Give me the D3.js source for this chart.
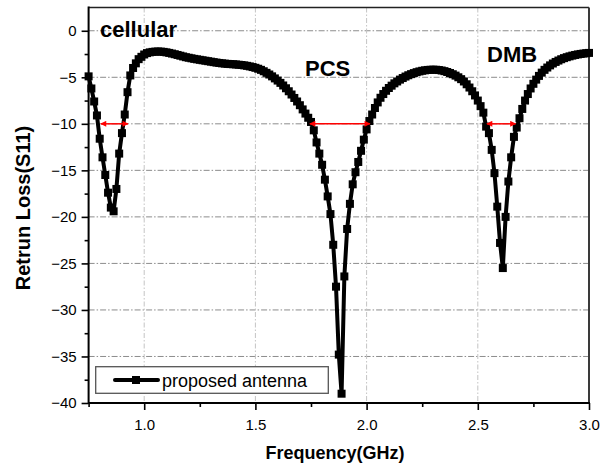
<!DOCTYPE html>
<html>
<head>
<meta charset="utf-8">
<script src="https://cdn.jsdelivr.net/npm/d3@7"></script>
<style>
  body { margin: 0; background: #fff; }
  text { font-family: Arial, "Liberation Sans", sans-serif; }
</style>
</head>
<body>
<div class="chart"></div>
<script>
// frequency (GHz), one row = 0.1 GHz
var freq = [
  0.75, 0.7625, 0.775, 0.7875, 0.8, 0.8125, 0.825, 0.8375,
  0.85, 0.8625, 0.875, 0.8875, 0.9, 0.9125, 0.925, 0.9375,
  0.95, 0.9625, 0.975, 0.9875, 1.0, 1.0125, 1.025, 1.0375,
  1.05, 1.0625, 1.075, 1.0875, 1.1, 1.1125, 1.125, 1.1375,
  1.15, 1.1625, 1.175, 1.1875, 1.2, 1.2125, 1.225, 1.2375,
  1.25, 1.2625, 1.275, 1.2875, 1.3, 1.3125, 1.325, 1.3375,
  1.35, 1.3625, 1.375, 1.3875, 1.4, 1.4125, 1.425, 1.4375,
  1.45, 1.4625, 1.475, 1.4875, 1.5, 1.5125, 1.525, 1.5375,
  1.55, 1.5625, 1.575, 1.5875, 1.6, 1.6125, 1.625, 1.6375,
  1.65, 1.6625, 1.675, 1.6875, 1.7, 1.7125, 1.725, 1.7375,
  1.75, 1.7625, 1.775, 1.7875, 1.8, 1.8125, 1.825, 1.8375,
  1.85, 1.8625, 1.875, 1.8875, 1.9, 1.9125, 1.925, 1.9375,
  1.95, 1.9625, 1.975, 1.9875, 2.0, 2.0125, 2.025, 2.0375,
  2.05, 2.0625, 2.075, 2.0875, 2.1, 2.1125, 2.125, 2.1375,
  2.15, 2.1625, 2.175, 2.1875, 2.2, 2.2125, 2.225, 2.2375,
  2.25, 2.2625, 2.275, 2.2875, 2.3, 2.3125, 2.325, 2.3375,
  2.35, 2.3625, 2.375, 2.3875, 2.4, 2.4125, 2.425, 2.4375,
  2.45, 2.4625, 2.475, 2.4875, 2.5, 2.5125, 2.525, 2.5375,
  2.55, 2.5625, 2.575, 2.5875, 2.6, 2.6125, 2.625, 2.6375,
  2.65, 2.6625, 2.675, 2.6875, 2.7, 2.7125, 2.725, 2.7375,
  2.75, 2.7625, 2.775, 2.7875, 2.8, 2.8125, 2.825, 2.8375,
  2.85, 2.8625, 2.875, 2.8875, 2.9, 2.9125, 2.925, 2.9375,
  2.95, 2.9625, 2.975, 2.9875, 3.0
];

// return loss S11 (dB), same rows as freq
var s11 = [
  -4.9, -6.2, -7.6, -9.1, -11.6, -13.6, -15.5, -17.4,
  -19.0, -19.4, -17.0, -13.2, -11.0, -9.0, -6.6, -4.8,
  -4.0, -3.5, -3.05, -2.8, -2.55, -2.4, -2.32, -2.27,
  -2.24, -2.23, -2.24, -2.27, -2.32, -2.38, -2.45, -2.52,
  -2.6, -2.68, -2.76, -2.84, -2.9, -2.96, -3.02, -3.07,
  -3.12, -3.17, -3.22, -3.27, -3.32, -3.37, -3.42, -3.46,
  -3.5, -3.53, -3.56, -3.58, -3.6, -3.62, -3.65, -3.68,
  -3.72, -3.77, -3.83, -3.9, -3.98, -4.08, -4.2, -4.35,
  -4.52, -4.7, -4.9, -5.12, -5.35, -5.6, -5.88, -6.18,
  -6.5, -6.85, -7.22, -7.6, -8.0, -8.45, -8.9, -9.35,
  -9.8, -10.7, -12.0, -13.2, -14.4, -16.0, -17.8, -19.7,
  -23.0, -27.5, -34.8, -39.0, -26.4, -21.3, -18.6, -16.5,
  -15.2, -14.1, -12.9, -11.7, -10.6, -9.7, -9.0, -8.3,
  -7.7, -7.2, -6.8, -6.45, -6.15, -5.9, -5.65, -5.45,
  -5.25, -5.08, -4.92, -4.78, -4.66, -4.55, -4.45, -4.37,
  -4.3, -4.25, -4.21, -4.19, -4.18, -4.19, -4.22, -4.27,
  -4.34, -4.43, -4.54, -4.67, -4.82, -5.0, -5.2, -5.45,
  -5.75, -6.1, -6.5, -6.95, -7.5, -8.1, -8.8, -10.3,
  -11.0, -12.8, -15.3, -18.9, -22.8, -25.5, -20.0, -16.2,
  -13.6, -11.4, -10.4, -9.4, -8.4, -7.5, -6.8, -6.2,
  -5.7, -5.25, -4.85, -4.5, -4.2, -3.95, -3.72, -3.52,
  -3.35, -3.2, -3.06, -2.94, -2.84, -2.75, -2.67, -2.6,
  -2.54, -2.49, -2.45, -2.41, -2.38
];

var xTicks = [1.0, 1.5, 2.0, 2.5, 3.0];
var xMinorTicks = [0.75, 1.25, 1.75, 2.25, 2.75];
var yTicks = [-40, -35, -30, -25, -20, -15, -10, -5, 0];
var yMinorTicks = [-37.5, -32.5, -27.5, -22.5, -17.5, -12.5, -7.5, -2.5];

// -10 dB bandwidth arrows
var bandNames = ["cellular", "PCS", "DMB"];
var bandStart = [0.805, 1.745, 2.541];
var bandEnd = [0.927, 2.015, 2.67];
var bandLevel = -10;

var seriesName = "proposed antenna";

var svgWidth = 608;
var svgHeight = 468;

var margin = {
  top: 7.5,
  right: 19,
  bottom: 65,
  left: 88.6
};

var width = svgWidth - margin.left - margin.right;
var height = svgHeight - margin.top - margin.bottom;

var svg = d3
  .select(".chart")
  .append("svg")
  .attr("width", svgWidth)
  .attr("height", svgHeight);

var chartGroup = svg.append("g")
  .attr("transform", `translate(${margin.left}, ${margin.top})`);

var xScale = d3.scaleLinear().domain([0.75, 3.0]).range([0, width]);
var yScale = d3.scaleLinear().domain([-40, 2.5]).range([height, 0]);

var data = freq.map((f, i) => ({ f: f, v: s11[i] }));

// grid lines
chartGroup.append("g")
  .selectAll("line")
  .data(yTicks.slice(1))
  .enter()
  .append("line")
  .attr("x1", 0)
  .attr("x2", width)
  .attr("y1", d => yScale(d))
  .attr("y2", d => yScale(d))
  .attr("stroke", "#8c8c8c")
  .attr("stroke-width", 1)
  .attr("stroke-dasharray", "6,2,1.5,2");

chartGroup.append("g")
  .selectAll("line")
  .data(xTicks.slice(0, -1))
  .enter()
  .append("line")
  .attr("x1", d => xScale(d))
  .attr("x2", d => xScale(d))
  .attr("y1", 0)
  .attr("y2", height)
  .attr("stroke", "#c4c4c4")
  .attr("stroke-width", 1)
  .attr("stroke-dasharray", "5,2,1.5,2");

// axes
var bottomAxis = d3.axisBottom(xScale)
  .tickValues(xTicks)
  .tickFormat(d3.format(".1f"))
  .tickSize(7)
  .tickPadding(9);
var bottomMinor = d3.axisBottom(xScale)
  .tickValues(xMinorTicks)
  .tickFormat("")
  .tickSize(4);
var leftAxis = d3.axisLeft(yScale)
  .tickValues(yTicks)
  .tickFormat(d3.format("d"))
  .tickSize(7)
  .tickPadding(5);
var leftMinor = d3.axisLeft(yScale)
  .tickValues(yMinorTicks)
  .tickFormat("")
  .tickSize(4);

chartGroup.append("g").attr("transform", `translate(0,${height})`).call(bottomAxis);
chartGroup.append("g").attr("transform", `translate(0,${height})`).call(bottomMinor);
chartGroup.append("g").call(leftAxis);
chartGroup.append("g").call(leftMinor);

chartGroup.selectAll(".domain").remove();
chartGroup.selectAll(".tick line").attr("stroke", "#000").attr("stroke-width", 1.6);
chartGroup.selectAll(".tick text")
  .attr("fill", "#000")
  .style("font-size", "15px");

// frame
chartGroup.append("line")
  .attr("x1", 0).attr("x2", width).attr("y1", 0).attr("y2", 0)
  .attr("stroke", "#222").attr("stroke-width", 1.5);
chartGroup.append("line")
  .attr("x1", width).attr("x2", width).attr("y1", 0).attr("y2", height)
  .attr("stroke", "#3a3a3a").attr("stroke-width", 2);
chartGroup.append("line")
  .attr("x1", 0).attr("x2", width + 1).attr("y1", height).attr("y2", height)
  .attr("stroke", "#000").attr("stroke-width", 2);
chartGroup.append("line")
  .attr("x1", 0).attr("x2", 0).attr("y1", -1).attr("y2", height + 1)
  .attr("stroke", "#000").attr("stroke-width", 2);

// curve
var line = d3.line()
  .x(d => xScale(d.f))
  .y(d => yScale(d.v));

chartGroup.append("path")
  .datum(data)
  .attr("d", line)
  .attr("fill", "none")
  .attr("stroke", "#000")
  .attr("stroke-width", 4)
  .attr("stroke-linejoin", "round");

chartGroup.append("g")
  .selectAll("rect")
  .data(data)
  .enter()
  .append("rect")
  .attr("x", d => xScale(d.f) - 4)
  .attr("y", d => yScale(d.v) - 4)
  .attr("width", 8)
  .attr("height", 8)
  .attr("fill", "#000");

// red bandwidth arrows
var defs = svg.append("defs");
defs.append("marker")
  .attr("id", "arrowhead")
  .attr("viewBox", "0 0 10 10")
  .attr("refX", 9)
  .attr("refY", 5)
  .attr("markerUnits", "userSpaceOnUse")
  .attr("markerWidth", 7)
  .attr("markerHeight", 6)
  .attr("orient", "auto-start-reverse")
  .append("path")
  .attr("d", "M0,0 L10,5 L0,10 z")
  .attr("fill", "#ff0000");

chartGroup.append("g")
  .selectAll("line")
  .data(bandNames)
  .enter()
  .append("line")
  .attr("x1", (d, i) => xScale(bandStart[i]))
  .attr("x2", (d, i) => xScale(bandEnd[i]))
  .attr("y1", yScale(bandLevel))
  .attr("y2", yScale(bandLevel))
  .attr("stroke", "#ff0000")
  .attr("stroke-width", 1.5)
  .attr("marker-start", "url(#arrowhead)")
  .attr("marker-end", "url(#arrowhead)");

// band labels
var labelX = [100, 305, 487];
var labelY = [37, 76, 61.5];
svg.append("g")
  .selectAll("text")
  .data(bandNames)
  .enter()
  .append("text")
  .attr("x", (d, i) => labelX[i])
  .attr("y", (d, i) => labelY[i])
  .style("font-size", "22px")
  .style("font-weight", "bold")
  .text(d => d);

// legend
var legend = svg.append("g");
legend.append("rect")
  .attr("x", 95.7).attr("y", 366.7)
  .attr("width", 232.6).attr("height", 26.6)
  .attr("fill", "#fff")
  .attr("stroke", "#555")
  .attr("stroke-width", 1.3);
legend.append("line")
  .attr("x1", 115).attr("x2", 158).attr("y1", 380).attr("y2", 380)
  .attr("stroke", "#000").attr("stroke-width", 4)
  .attr("stroke-linecap", "round");
legend.append("rect")
  .attr("x", 132).attr("y", 376).attr("width", 8).attr("height", 8)
  .attr("fill", "#000");
legend.append("text")
  .attr("x", 162).attr("y", 387)
  .style("font-size", "18px")
  .text(seriesName);

// axis titles
svg.append("text")
  .attr("x", 335)
  .attr("y", 459)
  .attr("text-anchor", "middle")
  .style("font-size", "18px")
  .style("font-weight", "bold")
  .text("Frequency(GHz)");

svg.append("text")
  .attr("transform", "translate(30, 208) rotate(-90)")
  .attr("text-anchor", "middle")
  .style("font-size", "20px")
  .style("font-weight", "bold")
  .text("Retrun Loss(S11)");
</script>
</body>
</html>
